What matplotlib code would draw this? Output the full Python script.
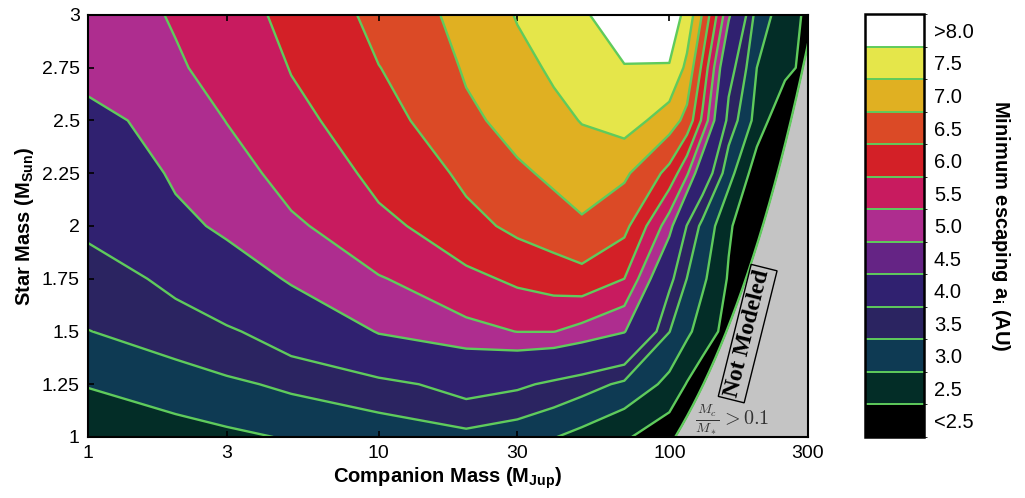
import numpy as np
import matplotlib
matplotlib.use("Agg")
import matplotlib.pyplot as plt
from matplotlib.colors import ListedColormap, BoundaryNorm
from matplotlib.cm import ScalarMappable
from matplotlib.ticker import NullLocator, FixedLocator, FixedFormatter

plt.rcParams['font.family'] = ['Liberation Sans', 'DejaVu Sans']
plt.rcParams['mathtext.fontset'] = 'custom'
plt.rcParams['mathtext.rm'] = 'Liberation Sans'
plt.rcParams['mathtext.bf'] = 'Liberation Sans:bold'
plt.rcParams['mathtext.it'] = 'Liberation Sans:italic'

# grid: companion mass (M_Jup) x star mass (M_Sun)
companion_mass = [1, 2, 3, 5, 10, 20, 30, 40, 50, 70, 100, 115, 130, 160, 200, 250, 300]
star_mass = [1.0, 1.25, 1.5, 1.75, 2.0, 2.25, 2.5, 2.75, 3.0]

# minimum escaping a_i (AU), one row per star mass
a_min = [
    [2.60, 2.80, 2.90, 3.05, 3.20, 3.36, 3.20, 3.02, 2.84, 2.55, 2.20, 2.00, 1.80, 1.60, 1.50, 1.40, 1.30],
    [3.03, 3.26, 3.42, 3.60, 3.85, 4.25, 4.10, 3.88, 3.70, 3.39, 2.84, 2.47, 2.20, 2.00, 1.80, 1.60, 1.30],
    [3.49, 3.77, 3.92, 4.35, 5.05, 5.36, 5.51, 5.51, 5.34, 5.03, 3.51, 3.10, 2.77, 2.30, 2.00, 1.60, 1.30],
    [3.79, 4.14, 4.60, 5.09, 5.47, 5.88, 6.10, 6.23, 6.33, 6.00, 4.15, 3.49, 3.09, 2.45, 2.00, 1.60, 1.30],
    [4.10, 4.83, 5.14, 5.43, 5.88, 6.36, 6.62, 6.78, 6.93, 6.64, 5.21, 3.97, 3.36, 2.57, 2.00, 1.60, 1.30],
    [4.47, 5.11, 5.34, 5.67, 6.15, 6.61, 6.92, 7.10, 7.25, 7.08, 6.34, 5.58, 4.45, 3.18, 2.20, 1.80, 1.50],
    [4.83, 5.29, 5.51, 5.88, 6.34, 6.90, 7.19, 7.38, 7.52, 7.72, 7.24, 6.84, 5.90, 3.79, 2.80, 2.00, 1.60],
    [5.20, 5.45, 5.68, 6.02, 6.49, 7.06, 7.37, 7.57, 7.71, 7.98, 7.97, 7.37, 6.39, 4.26, 3.00, 2.66, 2.30],
    [5.30, 5.54, 5.80, 6.15, 6.66, 7.20, 7.53, 7.76, 7.95, 8.25, 8.30, 7.84, 6.96, 5.09, 3.27, 2.72, 2.40],
]

# contour levels seen in the plot (no separate 4.5 band shows up)
levels = [2.5, 3.0, 3.5, 4.0, 5.0, 5.5, 6.0, 6.5, 7.0, 7.5, 8.0]
fill_colors = ['#000000', '#032d27', '#0e3a53', '#2b2461', '#302170', '#ae2d8f',
               '#c81b5f', '#d32027', '#db4a26', '#e0b022', '#e5e64a', '#ffffff']

# colorbar bins, bottom to top
cbar_colors = ['#000000', '#032d27', '#0e3a53', '#2b2461', '#302170', '#652485', '#ae2d8f',
               '#c81b5f', '#d32027', '#db4a26', '#e0b022', '#e5e64a', '#ffffff']
cbar_labels = ['<2.5', '2.5', '3.0', '3.5', '4.0', '4.5', '5.0', '5.5',
               '6.0', '6.5', '7.0', '7.5', '>8.0']

x_ticks = [1, 3, 10, 30, 100, 300]
y_ticks = [1, 1.25, 1.5, 1.75, 2, 2.25, 2.5, 2.75, 3]

mass_ratio_limit = 0.1
mjup_per_msun = 1047.6

line_green = '#5fcb5c'

fig = plt.figure(figsize=(10.25, 4.98), dpi=100)
ax = fig.add_axes([0.0859, 0.1225, 0.7024, 0.8474])
cax = fig.add_axes([0.8439, 0.1225, 0.0576, 0.849])

X, Y = np.meshgrid(companion_mass, star_mass)
Z = np.array(a_min)

ax.contourf(X, Y, Z, levels=levels, colors=fill_colors, extend='both', zorder=1)
ax.contour(X, Y, Z, levels=levels, colors=line_green, linewidths=1.7, zorder=2)

# region where Mc/M* > 0.1 is not modeled
ms = np.linspace(1, 3, 200)
edge = mass_ratio_limit * mjup_per_msun * ms
ax.fill_betweenx(ms, edge, 1000, color='#c4c4c4', zorder=3, lw=0)
ax.plot(edge, ms, color=line_green, lw=1.7, zorder=4)

ax.text(186, 1.49, 'Not Modeled', rotation=76, family='Liberation Serif',
        fontsize=17, fontweight='bold', ha='center', va='center', zorder=5,
        rotation_mode='anchor',
        bbox=dict(boxstyle='square,pad=0.12', fc='none', ec='black', lw=1))
ax.text(165, 1.08, r'$\frac{M_c}{M_*} > 0.1$', math_fontfamily='cm',
        fontsize=14.5, color='#333333', ha='center', va='center', zorder=5)

ax.set_xscale('log')
ax.set_xlim(1, 300)
ax.set_ylim(1, 3)
ax.xaxis.set_major_locator(FixedLocator(x_ticks))
ax.xaxis.set_major_formatter(FixedFormatter([str(t) for t in x_ticks]))
ax.xaxis.set_minor_locator(NullLocator())
ax.set_yticks(y_ticks)
ax.set_yticklabels(['%g' % t for t in y_ticks])
ax.tick_params(direction='in', top=True, right=True, length=4, width=1.2,
               labelsize=14, pad=6)
for s in ax.spines.values():
    s.set_linewidth(1.5)
    s.set_zorder(6)

ax.set_xlabel(r'Companion Mass (M$_{\mathbf{Jup}}$)', fontsize=14.5, fontweight='bold', labelpad=2)
ax.set_ylabel(r'Star Mass (M$_{\mathbf{Sun}}$)', fontsize=14.5, fontweight='bold', labelpad=4)

# colorbar
bounds = np.arange(len(cbar_colors) + 1)
sm = ScalarMappable(norm=BoundaryNorm(bounds, len(cbar_colors)), cmap=ListedColormap(cbar_colors))
cb = fig.colorbar(sm, cax=cax, ticks=bounds[:-1] + 0.5)
cb.ax.set_yticklabels(cbar_labels)
cb.ax.tick_params(length=0, labelsize=14.5, pad=7)
for b in bounds[1:-1]:
    cax.axhline(b, color=line_green, lw=1.4)
cb.outline.set_linewidth(1.8)
cb.set_label(r'Minimum escaping a$_{\mathbf{i}}$ (AU)', rotation=-90, fontsize=14.5,
             fontweight='bold', labelpad=28)

fig.savefig('out.png', dpi=100)
